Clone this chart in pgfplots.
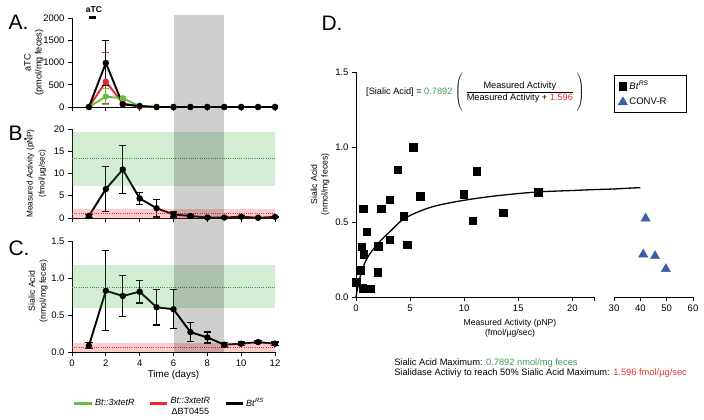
\documentclass[border=0pt]{standalone}
\usepackage{amsmath}
\usepackage{fontspec}
\setmainfont{Liberation Sans}
\usepackage{xcolor}
\usepackage{pgfplots}
\pgfplotsset{compat=1.18}

\definecolor{gline}{HTML}{6BBE45}
\definecolor{rline}{HTML}{E8282B}
\definecolor{gband}{HTML}{3DAA3A}
\definecolor{gdot}{HTML}{2EA02E}
\definecolor{rband}{HTML}{F03C3C}
\definecolor{convr}{HTML}{3E5BA9}
\definecolor{eqgreen}{HTML}{3A9C5A}
\definecolor{eqred}{HTML}{E5322D}

\pgfplotsset{
  gp/.style={scale only axis, anchor=south west, axis lines*=left,
    axis line style={line width=0.8pt,-}, every tick/.style={black,line width=0.8pt},
    tick align=outside, major tick length=4pt,
    tick label style={font=\fontsize{9.5}{10}\selectfont},
    label style={align=center}},
  ser/.style={black, line width=1.9pt, mark=*, mark size=2.2pt},
  ebars/.style={/pgfplots/error bars/.cd, y dir=both, y explicit,
    error bar style={line width=1.3pt, solid},
    error mark=-, error mark options={rotate=90, line width=1.3pt, mark size=3.6pt, solid}},
}

\begin{document}
\begin{tikzpicture}
\useasboundingbox (0,0) rectangle (704pt,-420pt);

\node[anchor=west, font=\fontsize{21}{22}\selectfont] at (5pt,-22pt) {A.};
\node[anchor=west, font=\fontsize{21}{22}\selectfont] at (5pt,-133pt) {B.};
\node[anchor=west, font=\fontsize{21}{22}\selectfont] at (5pt,-248pt) {C.};
\node[anchor=west, font=\fontsize{21}{22}\selectfont] at (318pt,-23pt) {D.};

% A: aTC
\begin{axis}[gp, at={(72pt,-107pt)}, width=203pt, height=89pt,
  xmin=0, xmax=12, ymin=0, ymax=2000,
  xtick={0,2,...,12}, xticklabels={},
  ytick={0,500,1000,1500,2000}, yticklabels={0,500,1000,1500,2000},
  ylabel={aTC\\(pmol/mg feces)},
  ylabel style={at={(axis description cs:-0.188,0.5)}, anchor=center, font=\fontsize{9.2}{11}\selectfont},
  clip=false]
\addplot[ser, color=rline, ebars] coordinates {(1,0) (2,570) += (0,650) -= (0,500) (3,85) (4,5) (5,0) (6,0) (7,0) (8,0) (9,0) (10,0) (11,0) (12,0)};
\addplot[ser, color=gline, ebars] coordinates {(1,0) (2,235) +- (0,185) (3,195) +- (0,45) (4,20) (5,0) (6,0) (7,0) (8,0) (9,0) (10,0) (11,0) (12,0)};
\addplot[ser, ebars] coordinates {(1,0) (2,990) +- (0,510) (3,60) (4,22) (5,0) (6,0) (7,0) (8,0) (9,0) (10,0) (11,0) (12,0)};
\draw[line width=2.5pt] (axis cs:1.0,2011) -- (axis cs:1.42,2011);
\node[font=\bfseries\fontsize{8.5}{10}\selectfont] at (axis cs:1.3,2180) {aTC};
\end{axis}

% B: measured activity
\begin{axis}[gp, at={(72pt,-218pt)}, width=203pt, height=89pt,
  xmin=0, xmax=12, ymin=0, ymax=20,
  xtick={0,2,...,12}, xticklabels={},
  ytick={0,5,10,15,20}, yticklabels={0,5,10,15,20},
  ylabel={Measured Activity (pNP)\\(fmol/µg/sec)},
  ylabel style={at={(axis description cs:-0.175,0.5)}, anchor=center, font=\fontsize{8.2}{12}\selectfont},
  clip=false]
\addplot[ser, ebars] coordinates {(1,0.45) +- (0,0.4) (2,6.5) +- (0,5.1) (3,10.9) +- (0,5.35) (4,4.4) +- (0,1.3) (5,2.2) +- (0,1.95) (6,0.8) +- (0,0.55) (7,0.45) +- (0,0.2) (8,0.1) +- (0,0.1) (9,0.1) +- (0,0.1) (10,0.3) +- (0,0.15) (11,0.05) +- (0,0.05) (12,0.25) +- (0,0.1)};
\fill[gband, opacity=0.22] (axis cs:0,7.1) rectangle (axis cs:12,19.3);
\draw[gdot, line width=0.9pt, dash pattern=on 1pt off 1.2pt] (axis cs:0,13.3) -- (axis cs:12,13.3);
\fill[rband, opacity=0.25] (axis cs:0,-0.3) rectangle (axis cs:12,2.0);
\draw[rline, line width=0.9pt, dash pattern=on 1pt off 1.2pt] (axis cs:0,1.05) -- (axis cs:12,1.05);
\end{axis}

% C: sialic acid
\begin{axis}[gp, at={(72pt,-352pt)}, width=203pt, height=111pt,
  xmin=0, xmax=12, ymin=0, ymax=1.5,
  xtick={0,2,...,12}, xticklabels={0,2,4,6,8,10,12},
  ytick={0,0.5,1,1.5}, yticklabels={0.0,0.5,1.0,1.5},
  ylabel={Sialic Acid\\(nmol/mg feces)},
  ylabel style={at={(axis description cs:-0.167,0.55)}, anchor=center, font=\fontsize{8.7}{11}\selectfont},
  xlabel={Time (days)},
  xlabel style={at={(axis description cs:0.5,-0.205)}, anchor=center, font=\fontsize{9.8}{11}\selectfont},
  clip=false,
  legend style={at={(0.48,-0.46)}, anchor=center, draw=none, fill=none,
    legend columns=3, font=\fontsize{9}{11}\selectfont,
    /tikz/every even column/.append style={column sep=12pt}},
  legend cell align=left]
\addplot[ser, forget plot, ebars] coordinates {(1,0.085) +- (0,0.04) (2,0.828) +- (0,0.54) (3,0.757) +- (0,0.28) (4,0.815) +- (0,0.153) (5,0.605) +- (0,0.24) (6,0.578) +- (0,0.265) (7,0.269) +- (0,0.128) (8,0.197) +- (0,0.074) (9,0.099) +- (0,0.03) (10,0.112) +- (0,0.025) (11,0.134) +- (0,0.02) (12,0.112) +- (0,0.025)};
\fill[gband, opacity=0.22] (axis cs:0,0.595) rectangle (axis cs:12,1.17);
\draw[gdot, line width=0.9pt, dash pattern=on 1pt off 1.2pt] (axis cs:0,0.878) -- (axis cs:12,0.878);
\fill[rband, opacity=0.25] (axis cs:0,0.0) rectangle (axis cs:12,0.125);
\draw[rline, line width=0.9pt, dash pattern=on 1pt off 1.2pt] (axis cs:0,0.065) -- (axis cs:12,0.065);
\fill[black, opacity=0.19] (axis cs:6,0) rectangle (axis cs:9,4.554);
\addlegendimage{gline, line width=3pt}
\addlegendentry{\textit{Bt::3xtetR}}
\addlegendimage{rline, line width=3pt}
\addlegendentry{\begin{tabular}[c]{@{}c@{}}\textit{Bt::3xtetR}\\ΔBT0455\end{tabular}}
\addlegendimage{black, line width=3pt}
\addlegendentry{\textit{Bt}\textsuperscript{\textit{RS}}}
\end{axis}

% D: left segment
\begin{axis}[gp, at={(356pt,-297pt)}, width=238pt, height=225pt,
  xmin=0, xmax=22, ymin=0, ymax=1.5,
  xtick={0,5,10,15,20}, xticklabels={0,5,10,15,20},
  extra x ticks={22}, extra x tick labels={},
  ytick={0,0.5,1,1.5}, yticklabels={0.0,0.5,1.0,1.5},
  ylabel={Sialic Acid\\(nmol/mg feces)},
  ylabel style={at={(axis description cs:-0.151,0.5)}, anchor=center, font=\fontsize{8.7}{10.5}\selectfont},
  xlabel={Measured Activity (pNP)\\(fmol/µg/sec)},
  xlabel style={at={(axis description cs:0.647,-0.138)}, anchor=center, font=\fontsize{8.6}{10.5}\selectfont},
  clip=false]
\addplot[black, line width=1.3pt, smooth] coordinates {(0,0) (0.2,0.08) (0.4,0.14) (0.8,0.225) (1.3,0.29) (2.2,0.37) (3.2,0.44) (4.4,0.52) (6,0.575) (7.5,0.61) (10,0.645) (13,0.675) (16.7,0.70) (20,0.71) (22,0.716) (23.9,0.72)};
\addplot[only marks, mark=square*, mark size=3.8pt, black] coordinates {
(5.28,1.0) (3.86,0.849) (11.14,0.838) (3.12,0.649) (5.96,0.673) (9.94,0.684) (16.82,0.70)
(0.68,0.589) (2.31,0.589) (4.41,0.538) (13.58,0.562) (10.80,0.509) (1.0,0.436)
(0.53,0.335) (0.71,0.285) (2.07,0.338) (3.1,0.383) (4.75,0.35) (0.37,0.178)
(2.0,0.165) (0.03,0.10) (0.62,0.06) (0.95,0.056) (1.3,0.055)};
\node[anchor=west, inner sep=0pt, font=\fontsize{9.2}{10}\selectfont] at (rel axis cs:0.042,0.911)
  {[Sialic Acid] = \textcolor{eqgreen}{0.7892}\;$\left(\rule[-16pt]{0pt}{34pt}\;\dfrac{\text{Measured Activity}}{\text{Measured Activity + \textcolor{eqred}{1.596}}}\;\right)$};
\node[anchor=west, align=left, inner sep=0pt, font=\fontsize{9.3}{10.5}\selectfont] at (rel axis cs:0.16,-0.316)
  {Sialic Acid Maximum: \textcolor{eqgreen}{0.7892 nmol/mg feces}\\
   Sialidase Activiy to reach 50\% Sialic Acid Maximum: \textcolor{eqred}{1.596 fmol/µg/sec}};
\end{axis}

% D: right segment
\begin{axis}[gp, at={(614pt,-297pt)}, width=79pt, height=225pt,
  xmin=30, xmax=60, ymin=0, ymax=1.5, axis y line=none,
  xtick={30,40,50,60}, xticklabels={30,40,50,60},
  clip=false,
  legend style={at={(0.0,0.987)}, anchor=north west, draw=black, line width=0.6pt,
    font=\fontsize{9.5}{11}\selectfont, row sep=3pt, inner sep=4pt},
  legend cell align=left]
\addplot[black, line width=1.3pt, forget plot] coordinates {(30,0.72) (35,0.725) (40,0.729)};
\addplot[only marks, mark=triangle*, mark size=5.3pt, convr, forget plot] coordinates {(42.0,0.524) (41.1,0.284) (45.6,0.273) (49.7,0.187)};
\addlegendimage{only marks, mark=square*, mark size=3.8pt, black}
\addlegendentry{\textit{Bt}\textsuperscript{\textit{RS}}}
\addlegendimage{only marks, mark=triangle*, mark size=5.3pt, convr}
\addlegendentry{CONV-R\hspace*{14pt}}
\end{axis}
\end{tikzpicture}
\end{document}
